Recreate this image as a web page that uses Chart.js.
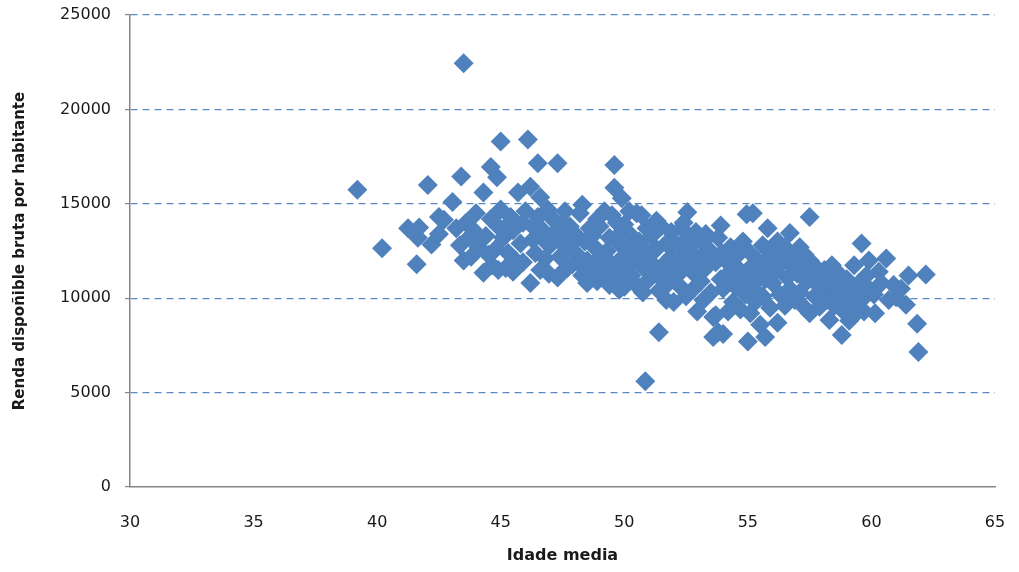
<!DOCTYPE html>
<html>
<head>
<meta charset="utf-8">
<script src="https://cdn.jsdelivr.net/npm/chart.js@4/dist/chart.umd.min.js"></script>
<style>
  html, body { margin: 0; padding: 0; background: #fff; }
  #wrap { width: 1019px; height: 572px; }
</style>
</head>
<body>
<div id="wrap"><canvas id="chart" width="1019" height="572"></canvas></div>
<script>
// Idade media (x) / Renda dispoñible bruta por habitante (y)
const ageValues = [
  39.2, 40.2, 41.25, 41.7, 41.65, 41.6, 42.05, 42.2, 42.5, 42.7, 42.5,
  43.05, 43.2, 43.4, 43.5, 43.35, 43.5, 43.75, 43.6, 43.9, 44.0, 44.1, 43.8,
  44.3, 44.3, 44.6, 44.65, 44.85, 44.4, 44.6, 44.8, 44.9, 44.5, 45.0, 45.0, 44.9,
  45.1, 45.2, 45.3, 45.4, 45.5, 45.7, 45.6, 45.8, 45.9, 45.5, 45.9, 45.3,
  46.0, 46.1, 46.2, 46.2, 46.3, 46.5, 46.6, 46.4, 46.5, 46.7, 46.8, 46.9, 46.6, 46.3, 46.8, 46.95,
  47.0, 47.1, 47.3, 47.2, 47.4, 47.5, 47.5, 47.6, 47.7, 47.8, 47.9, 47.3, 47.6, 47.9, 47.4, 47.7,
  48.0, 48.1, 48.2, 48.3, 48.3, 48.4, 48.5, 48.6, 48.7, 48.8, 48.9, 48.9, 48.5, 48.2, 48.7, 48.95,
  49.0, 49.1, 49.2, 49.3, 49.4, 49.5, 49.6, 49.6, 49.7, 49.8, 49.8, 49.9, 49.9, 49.4, 49.2, 49.7, 49.5, 49.95,
  50.0, 50.1, 50.2, 50.2, 50.3, 50.4, 50.5, 50.5, 50.6, 50.7, 50.75, 50.8, 50.85, 50.9, 50.96, 50.3, 50.9, 50.0,
  51.0, 51.1, 51.2, 51.3, 51.4, 51.4, 51.5, 51.6, 51.7, 51.7, 51.8, 51.9, 51.9, 51.2, 51.5, 51.95, 51.3,
  52.0, 52.0, 52.1, 52.2, 52.3, 52.3, 52.4, 52.5, 52.55, 52.6, 52.6, 52.7, 52.8, 52.9, 52.95, 52.9, 52.4, 52.8,
  53.0, 53.1, 53.2, 53.3, 53.4, 53.5, 53.6, 53.6, 53.7, 53.7, 53.8, 53.9, 53.9, 53.8, 53.2, 53.5, 53.95, 53.3,
  54.0, 54.0, 54.1, 54.2, 54.3, 54.4, 54.5, 54.5, 54.6, 54.7, 54.8, 54.8, 54.9, 54.95, 55.0, 54.3, 54.7, 54.2,
  55.0, 55.1, 55.2, 55.2, 55.3, 55.4, 55.5, 55.5, 55.6, 55.6, 55.7, 55.8, 55.8, 55.9, 55.9, 55.3, 55.7, 55.1,
  56.0, 56.0, 56.1, 56.2, 56.2, 56.3, 56.4, 56.5, 56.5, 56.6, 56.7, 56.7, 56.8, 56.9, 56.9, 56.3, 56.6,
  57.0, 57.1, 57.1, 57.2, 57.3, 57.4, 57.5, 57.5, 57.5, 57.6, 57.7, 57.8, 57.9, 57.9, 57.3, 57.7,
  58.0, 58.1, 58.2, 58.3, 58.4, 58.4, 58.5, 58.6, 58.7, 58.8, 58.8, 58.9, 58.2, 58.6, 58.9,
  59.0, 59.1, 59.2, 59.3, 59.4, 59.5, 59.6, 59.6, 59.7, 59.8, 59.9, 59.9, 59.3,
  60.1, 60.15, 60.3, 60.4, 60.6, 60.7, 61.0, 61.2, 61.4, 61.5, 61.85, 61.9, 62.2, 60.9
];
const incomeValues = [
  15750, 12650, 13700, 13750, 13200, 11800, 16000, 12850, 14300, 14150, 13400,
  15100, 13700, 16450, 22450, 12800, 12000, 13250, 14000, 13600, 14500, 12700, 12200,
  11350, 15600, 16950, 11750, 16400, 13300, 14200, 12600, 13800, 12300, 14700, 18300, 11500,
  13200, 11600, 12400, 14300, 13600, 15600, 12000, 12900, 14000, 11400, 11900, 13900,
  14600, 18400, 15900, 10800, 13100, 17150, 15350, 12400, 14300, 13600, 12100, 14700, 11500, 13800, 13000, 11300,
  12800, 14200, 17150, 13500, 12200, 11400, 14000, 13100, 12600, 13800, 11800, 11100, 14600, 12900, 13000, 11600,
  13400, 12300, 14500, 14950, 11200, 13000, 12000, 13700, 11500, 12700, 14200, 10900, 10800, 11800, 13300, 12100,
  13800, 11300, 14600, 12500, 13200, 11800, 17050, 15850, 14000, 10450, 12900, 15300, 13500, 10700, 12000, 11200, 14400, 12200,
  13900, 11700, 14600, 12600, 13300, 10800, 14500, 12000, 13000, 14400, 10300, 11600, 5600, 12500, 10950, 11200, 13700, 10600,
  12000, 13300, 11300, 12600, 8200, 10400, 13800, 11800, 12900, 9900, 10800, 13500, 12200, 13900, 11000, 11400, 14100,
  9800, 13000, 12000, 10700, 13700, 11400, 12600, 10100, 14550, 13200, 11800, 12300, 10500, 13500, 9300, 11200, 14000, 12900,
  12100, 10900, 13000, 11600, 12600, 10300, 9000, 7950, 11900, 9100, 13200, 13850, 11000, 8200, 9900, 12300, 12400, 13400,
  10500, 8100, 12000, 11300, 12700, 9800, 11700, 10600, 12300, 9400, 11100, 13000, 10200, 14450, 7700, 10900, 12600, 9300,
  11500, 12400, 14500, 10700, 9800, 12000, 8600, 11200, 12800, 10100, 7950, 13700, 11600, 9500, 12200, 10400, 11000, 9200,
  10800, 12500, 11400, 8700, 13000, 10200, 11900, 12700, 9600, 11100, 13450, 10500, 12100, 9900, 11600, 12300, 10000,
  11300, 12700, 10300, 11800, 9500, 10900, 14300, 9200, 12000, 11400, 10100, 11000, 9550, 10600, 12300, 11700,
  10300, 11500, 9900, 8850, 11750, 10700, 9600, 10200, 11100, 8050, 9400, 10500, 10900, 11400, 9800,
  11000, 8800, 10300, 11750, 9500, 10800, 12900, 9900, 9300, 11200, 12000, 10500, 9100,
  10200, 9200, 11400, 10800, 12100, 9900, 10050, 10500, 9650, 11200, 8650, 7150, 11250, 10700
];
const xTicks = [30, 35, 40, 45, 50, 55, 60, 65];
const yTicks = [0, 5000, 10000, 15000, 20000, 25000];

const points = ageValues.map((x, i) => ({ x: x, y: incomeValues[i] }));

const textColor = '#1a1a1a';
const axisColor = '#868686';
const gridBlue = '#5a8ac6';
const fontFamily = '"DejaVu Sans", Verdana, sans-serif';

new Chart(document.getElementById('chart'), {
  type: 'scatter',
  data: {
    datasets: [{
      data: points,
      pointStyle: 'rectRot',
      pointRadius: 10,
      backgroundColor: '#4f81bd',
      borderColor: '#4f81bd',
      borderWidth: 0
    }]
  },
  options: {
    responsive: false,
    animation: false,
    layout: { padding: { top: 15, right: 24, left: 11, bottom: 7 } },
    plugins: { legend: { display: false }, tooltip: { enabled: false } },
    scales: {
      x: {
        type: 'linear',
        min: xTicks[0],
        max: xTicks[xTicks.length - 1],
        afterBuildTicks: (s) => { s.ticks = xTicks.map(v => ({ value: v })); },
        afterFit: (s) => { s.height = 78; s.paddingRight = 0; s.paddingLeft = 0; },
        grid: { display: false },
        border: { display: true, color: axisColor, width: 1.5 },
        ticks: {
          color: textColor,
          font: { family: fontFamily, size: 16 },
          padding: 18,
          maxRotation: 0,
          callback: (v) => String(v)
        },
        title: {
          display: true,
          text: 'Idade media',
          color: textColor,
          font: { family: fontFamily, size: 16, weight: 'bold' },
          padding: { top: 4, bottom: 0 }
        }
      },
      y: {
        type: 'linear',
        min: yTicks[0],
        max: yTicks[yTicks.length - 1],
        afterBuildTicks: (s) => { s.ticks = yTicks.map(v => ({ value: v })); },
        afterFit: (s) => { s.width = 119; s.paddingTop = 0; s.paddingBottom = 0; },
        grid: {
          color: (ctx) => ctx.tick && ctx.tick.value === 0 ? 'rgba(0,0,0,0)' : gridBlue,
          lineWidth: 1.2,
          tickColor: axisColor,
          tickLength: 5,
          tickBorderDash: []
        },
        border: { display: true, color: axisColor, width: 1.5, dash: [7, 5] },
        ticks: {
          color: textColor,
          font: { family: fontFamily, size: 16 },
          padding: 14,
          callback: (v) => String(v)
        },
        title: {
          display: true,
          text: 'Renda dispoñible bruta por habitante',
          color: textColor,
          font: { family: fontFamily, size: 15, weight: 'bold' },
          padding: { top: 0, bottom: 4 }
        }
      }
    }
  }
});
</script>
</body>
</html>
